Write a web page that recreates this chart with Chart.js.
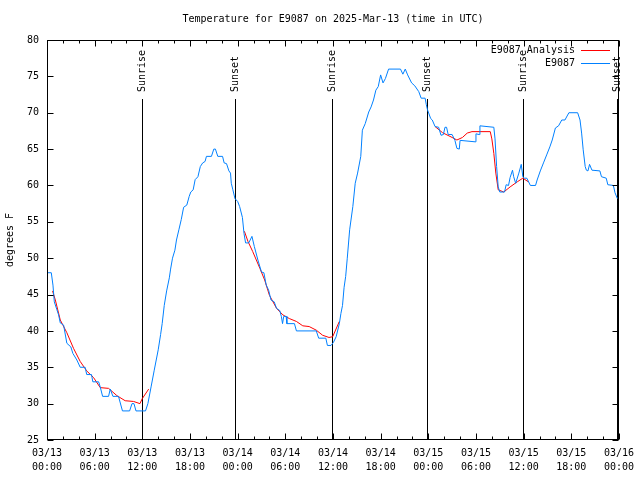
<!DOCTYPE html>
<html>
<head>
<meta charset="utf-8">
<script src="https://cdn.jsdelivr.net/npm/chart.js@4/dist/chart.umd.min.js"></script>
<style>
  html, body { margin: 0; padding: 0; background: #fff; }
  #wrap { width: 640px; height: 480px; }
</style>
</head>
<body>
<div id="wrap"><canvas id="chart" width="640" height="480"></canvas></div>
<script>
// hours since 03/13 00:00 UTC
const blueHours = [0, 0.54, 0.75, 0.92, 1.25, 1.46, 1.67, 2.09, 2.5, 3.0, 3.26, 3.76, 4.18, 4.8, 5.0, 5.6, 5.77, 6.5, 6.7, 7.0, 7.75, 7.96, 8.3, 9.0, 9.5, 10.4, 10.7, 10.95, 11.2, 12.4, 12.7, 13.1, 13.5, 14.0, 14.3, 14.5, 14.76, 15.06, 15.4, 15.56, 15.8, 16.1, 16.3, 16.6, 16.9, 17.2, 17.6, 17.9, 18.1, 18.4, 18.65, 19.0, 19.3, 19.6, 19.9, 20.07, 20.7, 21.0, 21.2, 21.5, 22.1, 22.3, 22.6, 22.9, 23.1, 23.2, 23.4, 23.66, 24.0, 24.25, 24.6, 24.8, 25.0, 25.4, 25.8, 26.1, 26.55, 27.0, 27.3, 27.6, 27.9, 28.2, 28.6, 28.9, 29.3, 29.5, 29.65, 29.8, 30.1, 30.2, 31.15, 31.4, 33.9, 34.2, 35.1, 35.3, 35.75, 36.05, 36.4, 36.8, 37.0, 37.2, 37.4, 37.6, 37.8, 38.1, 38.5, 38.8, 39.1, 39.5, 39.7, 40.06, 40.5, 40.8, 41.1, 41.4, 41.7, 42.0, 42.3, 42.6, 43.0, 44.5, 44.8, 45.1, 45.4, 45.9, 46.3, 46.8, 47.1, 47.6, 47.75, 47.9, 48.3, 48.5, 48.85, 49.3, 49.6, 49.9, 50.1, 50.3, 50.5, 51.0, 51.35, 51.6, 51.9, 52.0, 53.9, 54.0, 54.4, 54.5, 56.25, 56.4, 56.6, 56.8, 57.0, 57.6, 57.8, 58.1, 58.3, 58.6, 58.75, 59.0, 59.4, 59.7, 59.9, 60.1, 60.4, 60.85, 61.5, 61.7, 62.1, 62.5, 62.9, 63.3, 63.6, 64.0, 64.4, 64.8, 65.2, 65.7, 66.8, 67.1, 67.3, 67.5, 67.75, 67.9, 68.1, 68.3, 68.6, 69.6, 69.8, 70.4, 70.6, 71.3, 71.5, 71.8];
const blueTemps = [48, 48, 46.3, 44, 42.9, 42.2, 41.1, 40.8, 38.3, 37.8, 36.9, 36, 35, 35, 34, 34, 33, 33, 32.3, 31, 31, 32, 31, 31, 29, 29, 30, 30, 29, 29, 30, 32.3, 34.6, 37.4, 39.5, 41, 43.5, 45.5, 47.3, 48.5, 50, 51.1, 52.5, 53.9, 55.3, 57, 57.3, 58.5, 59.1, 59.4, 60.8, 61.2, 62.6, 63.1, 63.3, 64, 64, 65, 65, 64, 64, 63.1, 63, 62, 61.7, 60.3, 59.4, 58.2, 57.8, 57.1, 55.6, 53.4, 52.1, 52.1, 53, 51.6, 49.75, 48.1, 48, 46.3, 45.6, 44.25, 44, 43.1, 42.8, 42, 41, 42, 42, 41, 41, 40, 40, 39, 39, 38, 38, 38.4, 39.2, 41, 42.4, 43.5, 46, 47.5, 50, 53.9, 57.1, 60.3, 61.7, 64, 67.6, 68.5, 70.1, 70.8, 71.75, 73.1, 73.6, 75.2, 74.1, 74.7, 76, 76, 75.3, 76, 75.2, 74.1, 73.7, 72.9, 72, 72, 71.1, 70.4, 69.2, 69, 68.1, 68, 66.9, 67, 68, 68, 67, 67, 66.2, 65.1, 65, 66.2, 66, 67.1, 67, 68.2, 68, 66.4, 62.6, 59.8, 59.1, 59.1, 60.1, 60, 61.1, 62.1, 61.2, 60.3, 61.7, 62.9, 61.2, 61, 61, 60, 60, 60.75, 62, 63.1, 64.2, 65.3, 66.25, 67.9, 68.2, 69, 69, 70, 70, 69, 67.2, 64.9, 62.6, 62.1, 62, 62.9, 62.1, 62, 61.2, 61, 60.1, 60, 59, 58.2];

// analysis only exists for the night-time stretches; null breaks the line
const redHours = [0.7, 1.05, 1.67, 2.5, 3.34, 4.18, 5.0, 5.85, 6.7, 7.75, 8.8, 9.84, 10.9, 11.7, 12.0, 12.8, 13.0, 24.85, 25.3, 25.9, 26.8, 27.4, 28.0, 28.9, 29.7, 30.5, 31.4, 32.2, 33.0, 33.9, 34.7, 35.5, 35.96, 36.8, 37.0, 48.85, 49.8, 51.0, 51.6, 52.3, 52.9, 53.5, 55.8, 56.0, 56.25, 56.5, 56.8, 57.5, 58.3, 59.2, 59.9, 60.6];
const redTemps = [45.5, 44.25, 41.5, 39.75, 37.6, 35.8, 34.5, 33.6, 32.2, 32.1, 31.1, 30.4, 30.3, 30.0, 30.7, 32.0, null, 53.7, 52.3, 50.9, 48.6, 47.0, 44.9, 43.1, 42.2, 41.7, 41.3, 40.7, 40.6, 40.1, 39.4, 39.1, 39.2, 41.3, null, 68.1, 67.25, 66.6, 66.25, 66.6, 67.2, 67.4, 67.4, 66.4, 64.4, 61.7, 59.4, 59.1, 59.8, 60.5, 61.0, 60.5];

const tickDates = ['03/13', '03/13', '03/13', '03/13', '03/14', '03/14', '03/14', '03/14', '03/15', '03/15', '03/15', '03/15', '03/16'];
const tickTimes = ['00:00', '06:00', '12:00', '18:00', '00:00', '06:00', '12:00', '18:00', '00:00', '06:00', '12:00', '18:00', '00:00'];

const sunHours = [11.95, 23.66, 35.9, 47.8, 59.95, 71.8];
const sunLabels = ['Sunrise', 'Sunset', 'Sunrise', 'Sunset', 'Sunrise', 'Sunset'];

const FONT = '10px "DejaVu Sans Mono", "Liberation Mono", monospace';
const BLUE = '#0080ff';
const RED = '#ff0000';

const pts = (xs, ys) => xs.map((x, i) => ({ x: x, y: ys[i] }));

const gnuplotFrame = {
  id: 'gnuplotFrame',
  beforeDatasetsDraw(chart) {
    const { ctx, chartArea: a, scales: { x } } = chart;
    ctx.save();
    ctx.strokeStyle = '#000';
    ctx.lineWidth = 1;
    ctx.fillStyle = '#000';
    ctx.font = FONT;
    sunHours.forEach((h, i) => {
      const px = Math.round(x.getPixelForValue(h)) + 0.5;
      ctx.beginPath();
      ctx.moveTo(px, 99);
      ctx.lineTo(px, a.bottom);
      ctx.stroke();
      ctx.save();
      ctx.translate(px, 92);
      ctx.rotate(-Math.PI / 2);
      ctx.textAlign = 'left';
      ctx.textBaseline = 'middle';
      ctx.fillText(sunLabels[i], 0, 0);
      ctx.restore();
    });
    ctx.restore();
  },
  afterDraw(chart) {
    const { ctx, chartArea: a, scales: { x, y } } = chart;
    ctx.save();
    ctx.strokeStyle = '#000';
    ctx.fillStyle = '#000';
    ctx.lineWidth = 1;
    const L = Math.round(a.left) + 0.5, R = Math.round(a.right) - 0.5;
    const T = Math.round(a.top) + 0.5, B = Math.round(a.bottom) - 0.5;
    ctx.strokeRect(L, T, R - L, B - T);

    // inward ticks, mirrored on all sides
    ctx.beginPath();
    for (let h = 0; h <= 72; h += 2) {
      const px = Math.round(x.getPixelForValue(h)) + 0.5;
      const len = h % 6 === 0 ? 6 : 3;
      ctx.moveTo(px, B); ctx.lineTo(px, B - len);
      ctx.moveTo(px, T); ctx.lineTo(px, T + len);
    }
    for (let v = 25; v <= 80; v += 5) {
      const py = Math.round(y.getPixelForValue(v)) + 0.5;
      ctx.moveTo(L, py); ctx.lineTo(L + 6, py);
      ctx.moveTo(R, py); ctx.lineTo(R - 6, py);
    }
    ctx.stroke();

    ctx.font = FONT;
    ctx.textBaseline = 'middle';
    ctx.textAlign = 'center';
    ctx.fillText('Temperature for E9087 on 2025-Mar-13 (time in UTC)', (a.left + a.right) / 2, 19);

    ctx.save();
    ctx.translate(10, 240);
    ctx.rotate(-Math.PI / 2);
    ctx.fillText('degrees F', 0, 0);
    ctx.restore();

    // legend
    const rows = [['E9087 Analysis', RED, 50], ['E9087', BLUE, 63]];
    ctx.textAlign = 'right';
    rows.forEach(([label, col, ly]) => {
      ctx.fillStyle = '#000';
      ctx.fillText(label, 575, ly);
      ctx.strokeStyle = col;
      ctx.beginPath();
      ctx.moveTo(581, ly + 0.5);
      ctx.lineTo(610, ly + 0.5);
      ctx.stroke();
    });
    ctx.restore();
  }
};

new Chart(document.getElementById('chart'), {
  type: 'line',
  data: {
    datasets: [
      {
        label: 'E9087',
        data: pts(blueHours, blueTemps),
        borderColor: BLUE,
        borderWidth: 1,
        pointRadius: 0,
        tension: 0,
        order: 0
      },
      {
        label: 'E9087 Analysis',
        data: pts(redHours, redTemps),
        borderColor: RED,
        borderWidth: 1,
        pointRadius: 0,
        tension: 0,
        spanGaps: false,
        order: 1
      }
    ]
  },
  options: {
    responsive: false,
    animation: false,
    events: [],
    layout: { padding: { top: 40, right: 19, left: 0, bottom: 0 } },
    plugins: {
      legend: { display: false },
      title: { display: false },
      tooltip: { enabled: false }
    },
    scales: {
      x: {
        type: 'linear',
        min: 0,
        max: 72,
        grid: { display: false, drawTicks: false },
        border: { display: false },
        afterFit: (s) => { s.height = 40; },
        ticks: {
          stepSize: 6,
          autoSkip: false,
          maxRotation: 0,
          padding: 6,
          color: '#000',
          font: { family: '"DejaVu Sans Mono", "Liberation Mono", monospace', size: 10, lineHeight: 1.4 },
          callback: (v) => {
            const i = Math.round(v / 6);
            return [tickDates[i], tickTimes[i]];
          }
        }
      },
      y: {
        min: 25,
        max: 80,
        grid: { display: false, drawTicks: false },
        border: { display: false },
        afterFit: (s) => { s.width = 47; },
        ticks: {
          stepSize: 5,
          padding: 8,
          color: '#000',
          font: { family: '"DejaVu Sans Mono", "Liberation Mono", monospace', size: 10 }
        }
      }
    }
  },
  plugins: [gnuplotFrame]
});
</script>
</body>
</html>
